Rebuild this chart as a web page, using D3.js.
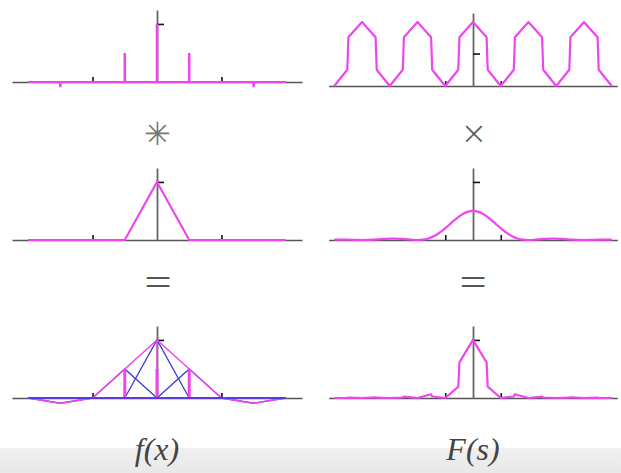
<!DOCTYPE html>
<html>
<head>
<meta charset="utf-8">
<script src="https://cdn.jsdelivr.net/npm/d3@7"></script>
<style>
  body { margin: 0; background: #fff; }
  svg { display: block; }
</style>
</head>
<body>
<div id="chart"></div>
<script>
// ---- data ----

// left column, x domain
var sampleX = [-4, -3, -2, -1, 0, 1, 2, 3, 4];
var sampleY = [0, -0.09, 0, 0.5, 1, 0.5, 0, -0.09, 0];

var triX = [-4, -1, 0, 1, 4];
var triY = [0, 0, 1, 0, 0];

var convSpikeX = [-1, 0, 1];
var convSpikeY = [0.5, 0.5, 0.5];

// right column, s domain
var combS = [-2.5, -2.265, -2.245, -2, -1.755, -1.735, -1.5, -1.265, -1.245, -1, -0.755, -0.735,
  -0.5, -0.265, -0.245, 0, 0.245, 0.265, 0.5, 0.735, 0.755, 1, 1.245, 1.265, 1.5,
  1.735, 1.755, 2, 2.245, 2.265, 2.5];
var combV = [0, 0.5, 1.5, 1.97, 1.5, 0.5, 0, 0.5, 1.5, 1.97, 1.5, 0.5,
  0, 0.5, 1.5, 1.97, 1.5, 0.5, 0, 0.5, 1.5, 1.97, 1.5, 0.5, 0,
  0.5, 1.5, 1.97, 1.5, 0.5, 0];

var bellS = [-2.5, -2.4, -2.3, -2.2, -2.1, -2.0, -1.9, -1.8, -1.7, -1.6, -1.5, -1.4, -1.3, -1.2, -1.1,
  -1.0, -0.9, -0.8, -0.7, -0.6, -0.5, -0.4, -0.3, -0.2, -0.1, 0, 0.1, 0.2, 0.3, 0.4, 0.5,
  0.6, 0.7, 0.8, 0.9, 1.0, 1.1, 1.2, 1.3, 1.4, 1.5, 1.6, 1.7, 1.8, 1.9, 2.0, 2.1, 2.2, 2.3, 2.4, 2.5];
var bellV = [0.008, 0.008, 0.006, 0.004, 0.001, 0, 0.001, 0.005, 0.011, 0.018, 0.023, 0.023, 0.020, 0.012, 0.004,
  0, 0.006, 0.027, 0.068, 0.127, 0.203, 0.286, 0.368, 0.438, 0.484, 0.5, 0.484, 0.438, 0.368, 0.286, 0.203,
  0.127, 0.068, 0.027, 0.006, 0, 0.004, 0.012, 0.020, 0.023, 0.023, 0.018, 0.011, 0.005, 0.001, 0, 0.001, 0.004, 0.006, 0.008, 0.008];

var prodV = [0, 0.003, 0.007, 0, 0.012, 0.005, 0, 0.009, 0.024, 0, 0.065, 0.026,
  0, 0.197, 0.613, 1, 0.613, 0.197, 0, 0.026, 0.065, 0, 0.024, 0.009, 0,
  0.005, 0.012, 0, 0.007, 0.003, 0];

var leftTicks = [-2, 2];
var rightTicks = [-0.5, 0.5];
var operators = ["\u2733", "\u00d7"];
var resultSign = "=";
var columnLabels = ["f(x)", "F(s)"];

// ---- drawing ----
var width = 621, height = 473;
var pink = "#ef45ef", blue = "#3a3fd6";

var svg = d3.select("#chart").append("svg")
  .attr("width", width)
  .attr("height", height);

// grey band at the bottom
var grad = svg.append("defs").append("linearGradient")
  .attr("id", "band").attr("x1", 0).attr("y1", 0).attr("x2", 0).attr("y2", 1);
grad.append("stop").attr("offset", "0%").attr("stop-color", "#f0f0f1");
grad.append("stop").attr("offset", "100%").attr("stop-color", "#e8e8e9");
svg.append("rect")
  .attr("x", 0).attr("y", 448).attr("width", width).attr("height", height - 448)
  .attr("fill", "url(#band)");

var xLeft = d3.scaleLinear().domain([-4.5, 4.5]).range([12, 302]);
var xRight = d3.scaleLinear().domain([-2.6, 2.6]).range([328.7, 617.3]);

var rowAxisY = [82, 240, 398];

function yScaleFor(axisY, top) {
  return d3.scaleLinear().domain([0, top]).range([axisY, axisY - 72]);
}

// draws the x axis, the vertical axis and its single tick
function drawAxes(x, y, ticks) {
  var g = svg.append("g");
  var y0 = y(0);
  g.append("g")
    .attr("transform", `translate(0, ${y0})`)
    .call(d3.axisBottom(x).tickValues(ticks).tickSizeInner(-5).tickSizeOuter(0).tickFormat(""))
    .call(a => a.select(".domain").attr("stroke", "#555").attr("stroke-width", 1.5))
    .call(a => a.selectAll(".tick line").attr("stroke", "#111").attr("stroke-width", 1.6));
  g.append("g")
    .attr("transform", `translate(${x(0)}, 0)`)
    .call(d3.axisRight(y).tickValues([1]).tickSizeInner(7).tickSizeOuter(0).tickFormat(""))
    .call(a => a.select(".domain").attr("stroke", "#666").attr("stroke-width", 1.8))
    .call(a => a.selectAll(".tick line").attr("stroke", "#111").attr("stroke-width", 1.6));
  return g;
}

var lineGen = (x, y) => d3.line().x(d => x(d[0])).y(d => y(d[1]));

// row 1 left: sampled spikes
var yTL = yScaleFor(rowAxisY[0], 1.24);
drawAxes(xLeft, yTL, leftTicks);
svg.append("path")
  .attr("d", lineGen(xLeft, yTL)([[-4, 0], [4, 0]]))
  .attr("stroke", pink).attr("stroke-width", 2).attr("fill", "none");
svg.selectAll(".spike").data(d3.zip(sampleX, sampleY)).enter().append("line")
  .attr("x1", d => xLeft(d[0])).attr("x2", d => xLeft(d[0]))
  .attr("y1", yTL(0)).attr("y2", d => yTL(d[1]))
  .attr("stroke", pink).attr("stroke-width", 2.6);

// row 1 right: periodic function
var yTR = d3.scaleLinear().domain([0, 2.25]).range([86, 13]);
drawAxes(xRight, yTR, rightTicks);
svg.append("path")
  .attr("d", lineGen(xRight, yTR)(d3.zip(combS, combV)))
  .attr("stroke", pink).attr("stroke-width", 2.2).attr("fill", "none")
  .attr("stroke-linejoin", "round");

// operators
svg.append("text")
  .attr("x", xLeft(0)).attr("y", 134)
  .attr("text-anchor", "middle").attr("dominant-baseline", "central")
  .style("font-family", "DejaVu Sans").style("font-weight", 200).style("font-size", "32px")
  .attr("fill", "#777").text(operators[0]);
svg.append("text")
  .attr("x", xRight(0) + 1).attr("y", 133)
  .attr("text-anchor", "middle").attr("dominant-baseline", "central")
  .style("font-family", "DejaVu Sans").style("font-weight", 200).style("font-size", "32px")
  .attr("fill", "#555").text(operators[1]);

// row 2 left: triangle
var yML = yScaleFor(rowAxisY[1], 1.24);
drawAxes(xLeft, yML, leftTicks);
svg.append("path")
  .attr("d", lineGen(xLeft, yML)(d3.zip(triX, triY)))
  .attr("stroke", pink).attr("stroke-width", 2.2).attr("fill", "none");

// row 2 right: its transform
var yMR = yScaleFor(rowAxisY[1], 1.24);
drawAxes(xRight, yMR, rightTicks);
svg.append("path")
  .attr("d", d3.line().curve(d3.curveMonotoneX).x(d => xRight(d[0])).y(d => yMR(d[1]))(d3.zip(bellS, bellV)))
  .attr("stroke", pink).attr("stroke-width", 2.2).attr("fill", "none");

// equals signs
[xLeft(0) + 1, xRight(0)].forEach(function(cx) {
  svg.append("text")
    .attr("transform", `translate(${cx}, 280) scale(1, 1.45)`)
    .attr("text-anchor", "middle").attr("dominant-baseline", "central")
    .style("font-family", "DejaVu Sans").style("font-weight", 200).style("font-size", "36px")
    .attr("fill", "#555").text(resultSign);
});

// row 3 left: convolution built from triangles
var yBL = yScaleFor(rowAxisY[2], 1.24);
drawAxes(xLeft, yBL, leftTicks);
d3.zip(sampleX, sampleY).filter(d => d[1] !== 0).forEach(function(d) {
  svg.append("path")
    .attr("d", lineGen(xLeft, yBL)([[d[0] - 1, 0], [d[0], d[1]], [d[0] + 1, 0]]))
    .attr("stroke", blue).attr("stroke-width", 1.3).attr("fill", "none");
});
svg.append("path")
  .attr("d", lineGen(xLeft, yBL)(d3.zip(sampleX, sampleY)))
  .attr("stroke", pink).attr("stroke-width", 1.4).attr("fill", "none");
svg.selectAll(".cspike").data(d3.zip(convSpikeX, convSpikeY)).enter().append("line")
  .attr("x1", d => xLeft(d[0])).attr("x2", d => xLeft(d[0]))
  .attr("y1", yBL(0)).attr("y2", d => yBL(d[1]))
  .attr("stroke", pink).attr("stroke-width", 3);
svg.append("line")
  .attr("x1", xLeft(0)).attr("x2", xLeft(0))
  .attr("y1", yBL(0)).attr("y2", yBL(1))
  .attr("stroke", pink).attr("stroke-width", 1.4);
svg.append("path")
  .attr("d", lineGen(xLeft, yBL)([[-4, 0], [4, 0]]))
  .attr("stroke", "#5a3ae6").attr("stroke-width", 2).attr("fill", "none");

// row 3 right: product
var yBR = yScaleFor(rowAxisY[2], 1.24);
drawAxes(xRight, yBR, rightTicks);
svg.append("path")
  .attr("d", lineGen(xRight, yBR)(d3.zip(combS, prodV)))
  .attr("stroke", pink).attr("stroke-width", 2.2).attr("fill", "none")
  .attr("stroke-linejoin", "round");

// column labels
[xLeft(0), xRight(0)].forEach(function(cx, i) {
  svg.append("text")
    .attr("x", cx).attr("y", 460)
    .attr("text-anchor", "middle")
    .style("font-family", "Liberation Serif").style("font-style", "italic").style("font-size", "32px")
    .attr("fill", "#444").text(columnLabels[i]);
});
</script>
</body>
</html>
